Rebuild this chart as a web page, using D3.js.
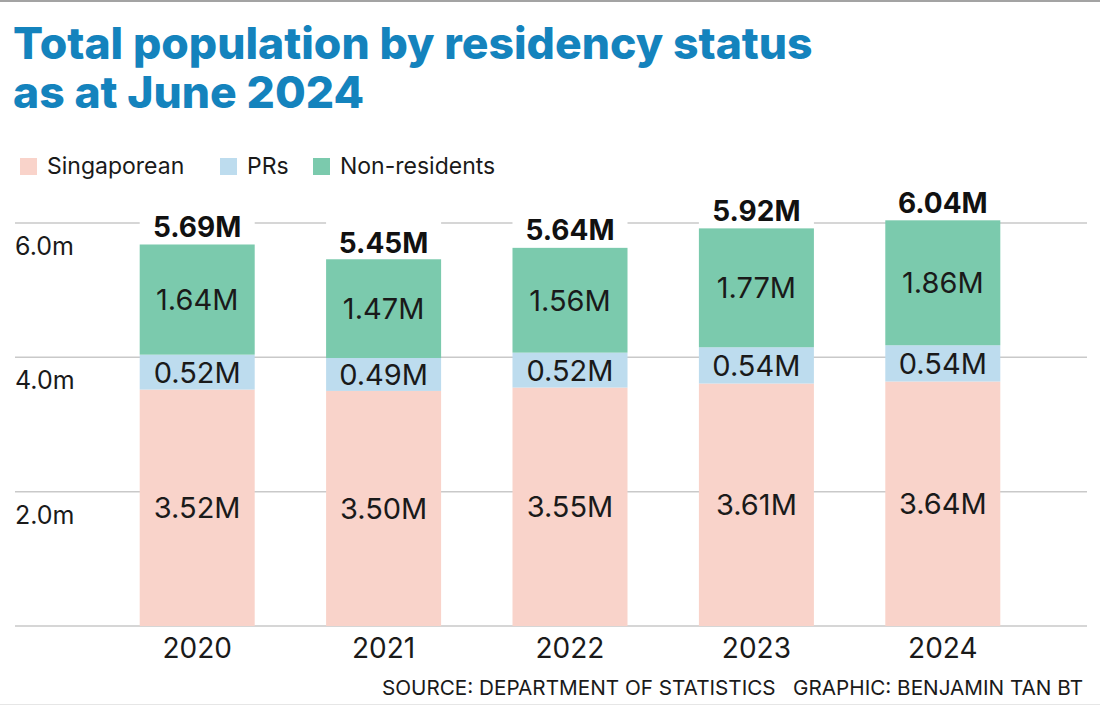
<!DOCTYPE html>
<html>
<head>
<meta charset="utf-8">
<script src="https://cdn.jsdelivr.net/npm/d3@7"></script>
<style>
  body { margin: 0; background: #fff; }
  svg { display: block; }
</style>
</head>
<body>
<script>
// data
var years = ["2020", "2021", "2022", "2023", "2024"];
var singaporean = [3.52, 3.50, 3.55, 3.61, 3.64];
var prs = [0.52, 0.49, 0.52, 0.54, 0.54];
var nonresidents = [1.64, 1.47, 1.56, 1.77, 1.86];
var totals = [5.69, 5.45, 5.64, 5.92, 6.04];
var seriesNames = ["Singaporean", "PRs", "Non-residents"];
var yTicks = [0, 2, 4, 6];

// basic settings
var w = 1100, h = 706;
var colors = ["#f9d3ca", "#bddcee", "#7bcaad"];
var font = "Inter, 'Liberation Sans', sans-serif";

var svg = d3.select("body").append("svg")
  .attr("width", w)
  .attr("height", h);

// top / bottom border lines
svg.append("rect").attr("x", 0).attr("y", 0).attr("width", w).attr("height", 2).attr("fill", "#a3a3a3");
svg.append("rect").attr("x", 0).attr("y", 704).attr("width", w).attr("height", 1).attr("fill", "#e6e6e6");

// title
var title = svg.append("text")
  .attr("fill", "#1483bd")
  .attr("font-family", font)
  .attr("font-weight", 800)
  .attr("font-size", 44.5);
title.append("tspan").attr("x", 13).attr("y", 59).text("Total population by residency status");
title.append("tspan").attr("x", 13).attr("y", 108).text("as at June 2024");

// legend
var legendX = [20, 220, 313];
var legend = svg.selectAll(".legend")
  .data(seriesNames)
  .enter().append("g")
  .attr("class", "legend")
  .attr("transform", function(d, i) { return "translate(" + legendX[i] + ",158)"; });
legend.append("rect")
  .attr("width", 17).attr("height", 17)
  .attr("fill", function(d, i) { return colors[i]; });
legend.append("text")
  .attr("x", 27).attr("y", 16)
  .attr("font-family", font)
  .attr("font-size", 23)
  .attr("fill", "#1a1a1a")
  .text(function(d) { return d; });

// scales
var x = d3.scaleBand()
  .domain(years)
  .range([104, 1036])
  .paddingInner(0.383)
  .paddingOuter(0.1915);

var y = d3.scaleLinear()
  .domain([0, 6])
  .range([626, 223]);

// gridlines
svg.append("g").selectAll("line")
  .data(yTicks)
  .enter().append("line")
  .attr("x1", 15).attr("x2", 1087)
  .attr("y1", function(d) { return y(d); })
  .attr("y2", function(d) { return y(d); })
  .attr("stroke", "#c9c9c9")
  .attr("stroke-width", 1.5);

// tick labels (below each line)
svg.append("g").selectAll("text")
  .data(yTicks.filter(function(d) { return d > 0; }))
  .enter().append("text")
  .attr("x", 15)
  .attr("y", function(d) { return y(d) + 32; })
  .attr("font-family", font)
  .attr("font-size", 25)
  .attr("fill", "#1a1a1a")
  .text(function(d) { return d3.format(".1f")(d) + "m"; });

// stacked data
var table = years.map(function(yr, i) {
  return { year: yr, Singaporean: singaporean[i], PRs: prs[i], "Non-residents": nonresidents[i], total: totals[i] };
});
var stack = d3.stack().keys(seriesNames)(table);

// white knock-out above each bar so the gridline breaks around the total label
svg.append("g").selectAll("rect")
  .data(table)
  .enter().append("rect")
  .attr("x", function(d) { return x(d.year); })
  .attr("width", x.bandwidth())
  .attr("y", function(d) { return y(d.total) - 45; })
  .attr("height", 45)
  .attr("fill", "#fff");

var layer = svg.append("g").selectAll("g")
  .data(stack)
  .enter().append("g")
  .attr("fill", function(d, i) { return colors[i]; });

layer.selectAll("rect")
  .data(function(d) { return d; })
  .enter().append("rect")
  .attr("x", function(d) { return x(d.data.year); })
  .attr("width", x.bandwidth())
  .attr("y", function(d) { return y(d[1]); })
  .attr("height", function(d) { return y(d[0]) - y(d[1]); });

// segment labels
layer.selectAll("text")
  .data(function(d) { return d.map(function(p) { p.key = d.key; return p; }); })
  .enter().append("text")
  .attr("x", function(d) { return x(d.data.year) + x.bandwidth() / 2; })
  .attr("y", function(d) { return (y(d[0]) + y(d[1])) / 2; })
  .attr("dy", "0.36em")
  .attr("text-anchor", "middle")
  .attr("font-family", font)
  .attr("font-size", 29)
  .attr("fill", "#1a1a1a")
  .text(function(d) { return d3.format(".2f")(d.data[d.key]) + "M"; });

// totals
svg.append("g").selectAll("text")
  .data(table)
  .enter().append("text")
  .attr("x", function(d) { return x(d.year) + x.bandwidth() / 2; })
  .attr("y", function(d) { return y(d.total) - 7; })
  .attr("text-anchor", "middle")
  .attr("font-family", font)
  .attr("font-weight", 700)
  .attr("font-size", 28)
  .attr("fill", "#111")
  .text(function(d) { return d3.format(".2f")(d.total) + "M"; });

// x axis labels
svg.append("g").selectAll("text")
  .data(years)
  .enter().append("text")
  .attr("x", function(d) { return x(d) + x.bandwidth() / 2; })
  .attr("y", 658)
  .attr("text-anchor", "middle")
  .attr("font-family", font)
  .attr("font-size", 28)
  .attr("fill", "#1a1a1a")
  .text(function(d) { return d; });

// source
svg.append("text")
  .attr("x", 1083).attr("y", 695)
  .attr("text-anchor", "end")
  .attr("font-family", font)
  .attr("font-size", 20.7)
  .attr("fill", "#1a1a1a")
  .text("SOURCE: DEPARTMENT OF STATISTICS\u00a0\u00a0\u00a0GRAPHIC: BENJAMIN TAN BT");
</script>
</body>
</html>
